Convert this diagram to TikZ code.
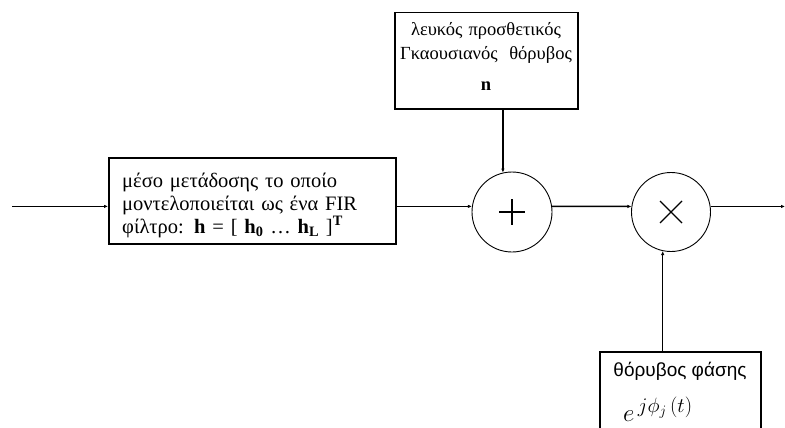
\documentclass[tikz,border=0pt]{standalone}
\usepackage{fontspec}
\setmainfont{Liberation Serif}
\newfontfamily\sansgr{Liberation Sans}
\usetikzlibrary{arrows.meta,calc}
\begin{document}
\begin{tikzpicture}[x=1pt,y=-1pt,
  conn/.style={line width=1.4pt,-{Latex[length=4pt,width=3.5pt]}},
  blockbox/.style={draw,line width=1.5pt,rectangle,inner sep=0pt},
  opcircle/.style={draw,line width=0.9pt,circle,inner sep=0pt,minimum size=80pt},
  lbl/.style={font=\fontsize{20.5}{23}\selectfont}
]
\useasboundingbox (0,0) rectangle (785,428);
\clip (0,0) rectangle (785,428);
\fill[white] (0,0) rectangle (785,428);

% FIR channel box
\node[blockbox,anchor=north west,minimum width=287pt,minimum height=86pt] (fir) at (108,157) {};
\node[anchor=west,text width=265pt,align=left,lbl,inner sep=0pt] (firtxt) at (122,205)
  {μέσο μετάδοσης το οποίο\\μοντελοποιείται ως ένα FIR\\φίλτρο: \textbf{h} = [ \textbf{h}$_{\mathbf 0}$ … \textbf{h}$_{\mathbf L}$ ]$^{\mathbf T}$};

% noise box
\node[blockbox,anchor=north west,minimum width=183pt,minimum height=96pt] (noise) at (394,12) {};
\node[text width=183pt,align=center,font=\fontsize{18.5}{24}\selectfont,inner sep=0pt] (noisetxt) at (486,56)
  {λευκός προσθετικός\\Γκαουσιανός\hspace{0.3em} θόρυβος\\[7pt]\textbf{n}};

% adder and multiplier
\node[opcircle] (plus) at (512,212) {};
\node[opcircle,minimum size=79pt] (times) at (671,212) {};
\draw[line width=1.4pt] ($(plus)+(-13,0)$) -- ($(plus)+(13,0)$)
                        ($(plus)+(0,-13)$) -- ($(plus)+(0,13)$);
\draw[line width=1.1pt] ($(times)+(-11,-11)$) -- ($(times)+(11,11)$)
                        ($(times)+(-11,11)$) -- ($(times)+(11,-11)$);

% phase noise box (cut off at bottom)
\node[blockbox,anchor=north west,minimum width=161pt,minimum height=100pt] (phase) at (599,351) {};
\node[font=\sansgr\fontsize{19}{22}\selectfont] (phtxt) at (680,371) {θόρυβος φάσης};
\node[anchor=west,font=\fontsize{28}{32}\selectfont,inner sep=0pt] (phexp) at (623,409) {$e^{\,j\phi_j\,(t)}$};

% connectors
\coordinate (in) at (12,206.4);
\coordinate (out) at (785,206.4);
\draw[conn] (in) -- (in -| fir.west);
\draw[conn] (fir.east |- plus.172) -- (plus.172);
\draw[conn] (plus.103 |- noise.south) -- (plus.103);
\draw[conn] (plus.8) -- (times.172);
\draw[conn] (times.258 |- phase.north) -- (times.258);
\draw[conn] (times.8) -- (times.8 -| out);
\end{tikzpicture}
\end{document}
